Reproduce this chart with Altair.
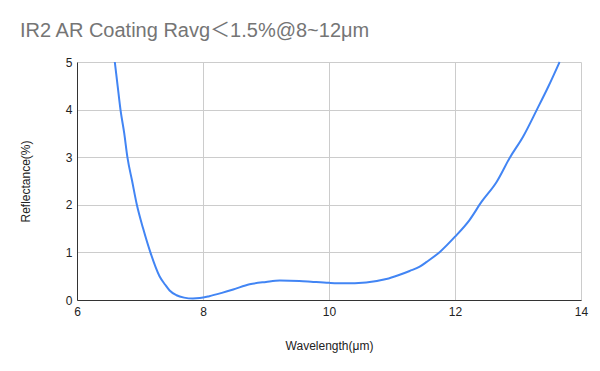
import altair as alt
import pandas as pd

wavelength = [6.60, 6.645, 6.69, 6.75, 6.80, 6.875, 6.95, 7.05, 7.165, 7.31, 7.40, 7.47,
              7.58, 7.70, 7.84, 7.95, 8.10, 8.30, 8.48, 8.74, 9.00, 9.22, 9.53, 9.75,
              10.00, 10.23, 10.59, 10.91, 11.10, 11.28, 11.44, 11.55, 11.76, 12.00,
              12.23, 12.42, 12.66, 12.87, 13.08, 13.30, 13.48, 13.66]
reflectance = [5.0, 4.5, 4.0, 3.5, 3.0, 2.5, 2.0, 1.5, 1.0, 0.5, 0.32, 0.2,
               0.1, 0.05, 0.03, 0.04, 0.08, 0.15, 0.22, 0.33, 0.38, 0.41, 0.40, 0.38,
               0.36, 0.35, 0.37, 0.44, 0.52, 0.61, 0.70, 0.80, 1.01, 1.33,
               1.68, 2.06, 2.48, 2.99, 3.43, 4.0, 4.48, 5.0]
x_ticks = [6, 8, 10, 12, 14]
y_ticks = [0, 1, 2, 3, 4, 5]

df = pd.DataFrame({"w": wavelength, "r": reflectance})

chart = alt.Chart(df).mark_line(
    color="#4285F4", strokeWidth=2, interpolate="monotone"
).encode(
    x=alt.X("w:Q", scale=alt.Scale(domain=[6, 14], nice=False),
            axis=alt.Axis(values=x_ticks, title="Wavelength(μm)", tickSize=0,
                          labelFlush=False, labelPadding=6, titleY=45,
                          titleBaseline="middle")),
    y=alt.Y("r:Q", scale=alt.Scale(domain=[0, 5], nice=False),
            axis=alt.Axis(values=y_ticks, title="Reflectance(%)", tickSize=0,
                          labelFlush=False, labelPadding=5, titleX=-52, titleY=119,
                          titleAngle=-90, titleBaseline="middle", domain=True)),
).properties(
    width=504, height=238,
    autosize=alt.AutoSizeParams(type="none"),
    padding={"left": 69, "top": 54, "right": 11, "bottom": 63},
    title=alt.TitleParams("IR2 AR Coating Ravg＜1.5%@8~12μm", anchor="start",
                          frame="group", dx=-57, dy=20, baseline="alphabetic", offset=19,
                          fontSize=20, font="Liberation Sans, Noto Sans CJK SC",
                          fontWeight="normal", color="#757575"),
).configure_view(stroke=None).configure_axis(
    labelFont="Liberation Sans", titleFont="Liberation Sans",
    labelFontSize=12, titleFontSize=12, labelColor="#222222", titleColor="#222222",
    titleFontWeight="normal", gridColor="#cccccc", domainColor="#333333",
    domainWidth=1,
)

chart.save("out.html", embed_options={"renderer": "svg", "actions": False})
